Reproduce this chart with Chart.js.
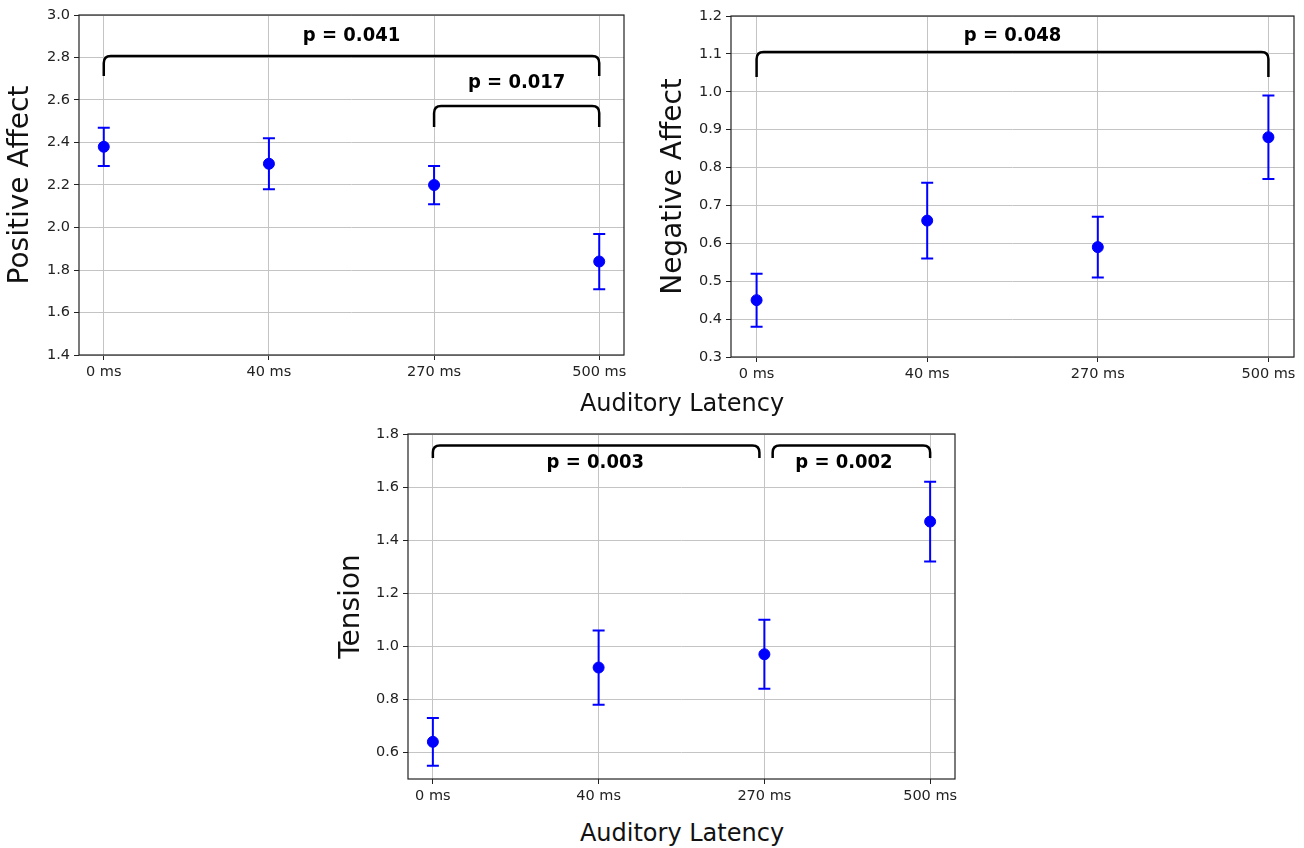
<!DOCTYPE html>
<html>
<head>
<meta charset="utf-8">
<script src="https://cdn.jsdelivr.net/npm/chart.js@4.4.1/dist/chart.umd.min.js"></script>
<style>
  body { margin: 0; background: #fff; width: 1304px; height: 848px; position: relative; overflow: hidden; }
  canvas { position: absolute; }
  .xlabel { position: absolute; font-family: "DejaVu Sans", sans-serif; font-size: 24px; color: #111;
            transform: translate(-50%, -50%); white-space: nowrap; }
</style>
</head>
<body>
<canvas id="pos" width="640" height="395" style="left:0;top:0"></canvas>
<canvas id="neg" width="651" height="397" style="left:653px;top:0"></canvas>
<canvas id="ten" width="639" height="400" style="left:331px;top:419px"></canvas>
<div class="xlabel" style="left:682px;top:403px">Auditory Latency</div>
<div class="xlabel" style="left:682px;top:833px">Auditory Latency</div>
<script>
const latencies = ['0 ms', '40 ms', '270 ms', '500 ms'];

const positiveMean = [2.38, 2.30, 2.20, 1.84];
const positiveErr  = [0.09, 0.12, 0.09, 0.13];
const negativeMean = [0.45, 0.66, 0.59, 0.88];
const negativeErr  = [0.07, 0.10, 0.08, 0.11];
const tensionMean  = [0.64, 0.92, 0.97, 1.47];
const tensionErr   = [0.09, 0.14, 0.13, 0.15];

const positiveTicks = [1.4, 1.6, 1.8, 2.0, 2.2, 2.4, 2.6, 2.8, 3.0];
const negativeTicks = [0.3, 0.4, 0.5, 0.6, 0.7, 0.8, 0.9, 1.0, 1.1, 1.2];
const tensionTicks  = [0.6, 0.8, 1.0, 1.2, 1.4, 1.6, 1.8];

// significance brackets: from/to = category index, top/leg = y values, label placed at (lx, ly)
const positiveBrackets = [
  { from: 0, to: 3, top: 2.807, leg: 2.713, label: 'p = 0.041', lx: 1.5, ly: 2.90 },
  { from: 2, to: 3, top: 2.572, leg: 2.473, label: 'p = 0.017', lx: 2.5, ly: 2.68 }
];
const negativeBrackets = [
  { from: 0, to: 3, top: 1.105, leg: 1.039, label: 'p = 0.048', lx: 1.5, ly: 1.149 }
];
const tensionBrackets = [
  { from: 0, to: 1.97, top: 1.757, leg: 1.71, label: 'p = 0.003', lx: 0.98, ly: 1.69 },
  { from: 2.05, to: 3, top: 1.757, leg: 1.71, label: 'p = 0.002', lx: 2.48, ly: 1.69 }
];

const FONT = '"DejaVu Sans", sans-serif';
const BOLD_FONT = '"DejaVu Sans Condensed", "DejaVu Sans", sans-serif';
const BLUE = '#0000ff';

// vertical error bars with caps, drawn under the markers
const errorBars = {
  id: 'errorBars',
  beforeDatasetsDraw(chart, args, opts) {
    const ctx = chart.ctx, xs = chart.scales.x, ys = chart.scales.y;
    ctx.save();
    ctx.strokeStyle = BLUE;
    ctx.lineWidth = 2;
    opts.mean.forEach(function (m, i) {
      const x = xs.getPixelForValue(i);
      const y1 = ys.getPixelForValue(m - opts.err[i]);
      const y2 = ys.getPixelForValue(m + opts.err[i]);
      ctx.beginPath();
      ctx.moveTo(x, y1); ctx.lineTo(x, y2);
      ctx.moveTo(x - 6, y1); ctx.lineTo(x + 6, y1);
      ctx.moveTo(x - 6, y2); ctx.lineTo(x + 6, y2);
      ctx.stroke();
    });
    ctx.restore();
  }
};

// box frame + brackets with p-values
const frameAndBrackets = {
  id: 'frameAndBrackets',
  afterDatasetsDraw(chart, args, opts) {
    const ctx = chart.ctx, a = chart.chartArea, xs = chart.scales.x, ys = chart.scales.y;
    ctx.save();
    ctx.strokeStyle = '#222';
    ctx.lineWidth = 1.2;
    ctx.strokeRect(a.left, a.top, a.right - a.left, a.bottom - a.top);

    const r = 7;
    opts.brackets.forEach(function (b) {
      const x1 = xs.getPixelForValue(b.from), x2 = xs.getPixelForValue(b.to);
      const yt = ys.getPixelForValue(b.top), yl = ys.getPixelForValue(b.leg);
      ctx.strokeStyle = '#000';
      ctx.lineWidth = 2.5;
      ctx.beginPath();
      ctx.moveTo(x1, yl);
      ctx.lineTo(x1, yt + r);
      ctx.quadraticCurveTo(x1, yt, x1 + r, yt);
      ctx.lineTo(x2 - r, yt);
      ctx.quadraticCurveTo(x2, yt, x2, yt + r);
      ctx.lineTo(x2, yl);
      ctx.stroke();

      ctx.fillStyle = '#000';
      ctx.font = 'bold 20px ' + BOLD_FONT;
      ctx.textAlign = 'center';
      ctx.textBaseline = 'middle';
      ctx.fillText(b.label, xs.getPixelForValue(b.lx), ys.getPixelForValue(b.ly));
    });
    ctx.restore();
  }
};

function makePanel(id, mean, err, ticks, yMin, yMax, title, brackets, pad, yWidth) {
  new Chart(document.getElementById(id), {
    type: 'scatter',
    data: {
      datasets: [{
        data: mean.map(function (v, i) { return { x: i, y: v }; }),
        backgroundColor: BLUE,
        borderColor: BLUE,
        pointRadius: 5.5,
        pointHoverRadius: 5.5,
        showLine: false
      }]
    },
    options: {
      responsive: false,
      animation: false,
      events: [],
      layout: { padding: pad },
      plugins: {
        legend: { display: false },
        tooltip: { enabled: false },
        errorBars: { mean: mean, err: err },
        frameAndBrackets: { brackets: brackets }
      },
      scales: {
        x: {
          type: 'linear',
          min: -0.15,
          max: 3.15,
          afterBuildTicks: function (s) { s.ticks = latencies.map(function (l, i) { return { value: i }; }); },
          afterFit: function (s) { s.height = 40; },
          ticks: {
            callback: function (v) { return latencies[v]; },
            font: { family: FONT, size: 14.5 },
            color: '#222',
            padding: 4,
            maxRotation: 0
          },
          grid: { color: '#c4c4c4', lineWidth: 1, tickColor: '#222', tickLength: 5 },
          border: { display: false }
        },
        y: {
          min: yMin,
          max: yMax,
          afterBuildTicks: function (s) { s.ticks = ticks.map(function (v) { return { value: v }; }); },
          afterFit: function (s) { s.width = yWidth; },
          ticks: {
            callback: function (v) { return v.toFixed(1); },
            font: { family: FONT, size: 14.5 },
            color: '#222',
            padding: 4
          },
          grid: { color: '#c4c4c4', lineWidth: 1, tickColor: '#222', tickLength: 5 },
          border: { display: false },
          title: {
            display: true,
            text: title,
            font: { family: FONT, size: 28 },
            color: '#111',
            padding: { top: 4, bottom: 0 }
          }
        }
      }
    },
    plugins: [errorBars, frameAndBrackets]
  });
}

makePanel('pos', positiveMean, positiveErr, positiveTicks, 1.4, 3.0, 'Positive Affect', positiveBrackets,
  { top: 15, right: 16, bottom: 0, left: 0 }, 79);
makePanel('neg', negativeMean, negativeErr, negativeTicks, 0.3, 1.2, 'Negative Affect', negativeBrackets,
  { top: 16, right: 10, bottom: 0, left: 0 }, 78);
makePanel('ten', tensionMean, tensionErr, tensionTicks, 0.5, 1.8, 'Tension', tensionBrackets,
  { top: 15, right: 15, bottom: 0, left: 0 }, 77);
</script>
</body>
</html>
